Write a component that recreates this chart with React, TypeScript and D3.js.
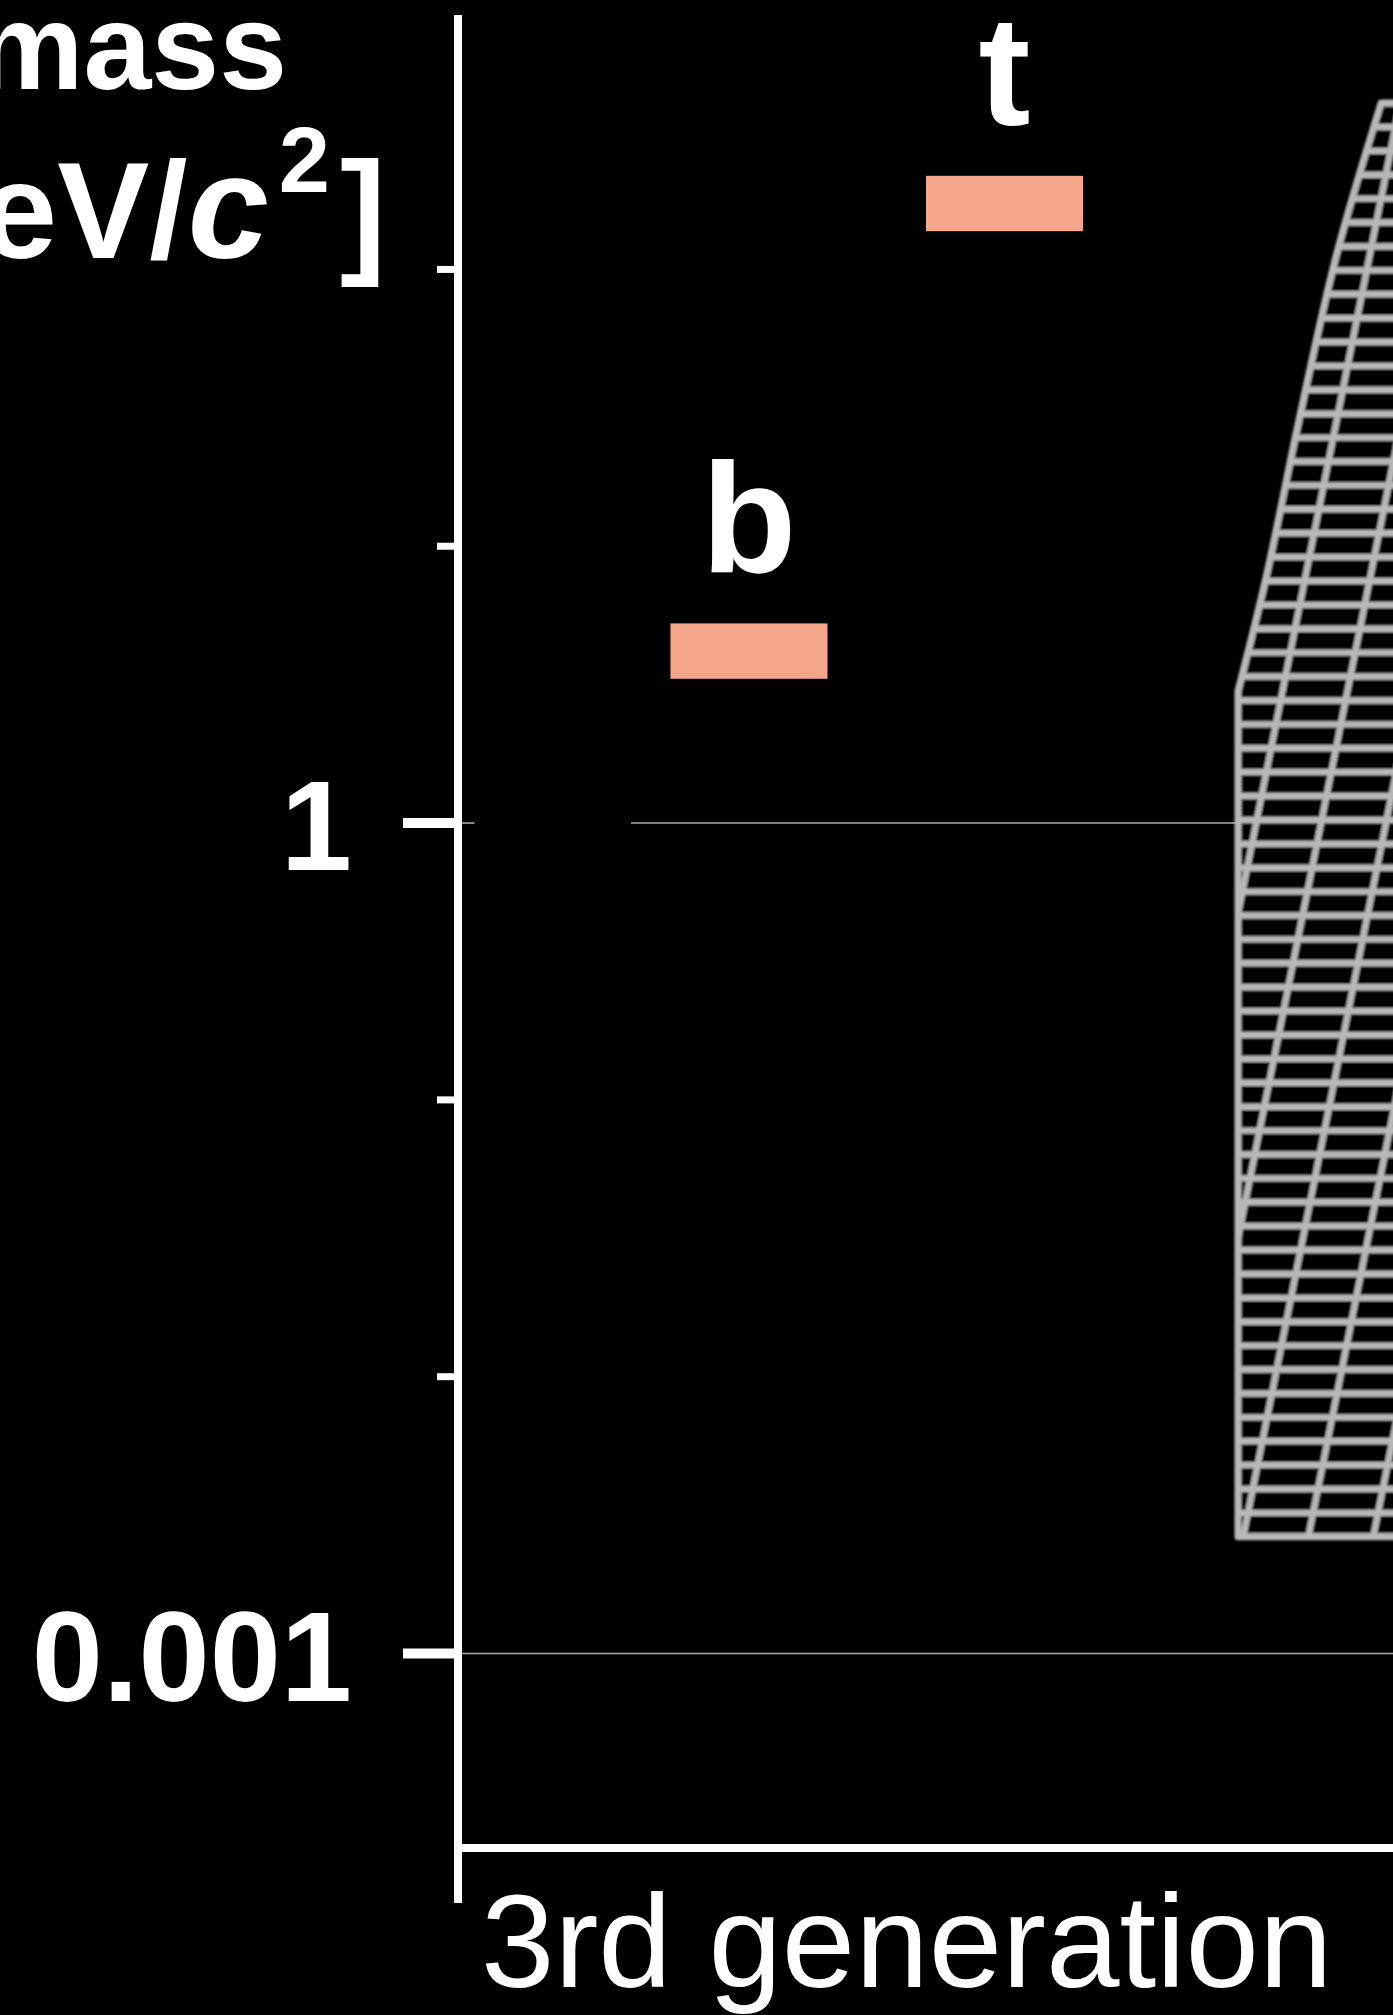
import React, { useEffect, useRef } from 'react';
import * as d3 from 'd3';

const W = 1393;
const H = 2015;

// Quarks of the third generation, masses in GeV/c^2
const particles = ['b', 't'];
const particleMass = [4.18, 173];
const particleColumn = [0, 1];

// Axis ticks (GeV/c^2)
const majorTicks = [0.001, 1];
const majorTickLabels = ['0.001', '1'];
const minorTicks = [0.01, 0.1, 10, 100];

// Horizontal reference lines: value, and the column spans they cover
const gridValue = [1, 1, 0.001];
const gridFrom = [-1.14, -0.462, -1.14];
const gridTo = [-1.075, 1.92, 2.6];

const generationLabel = '3rd generation';

// Curved left edge of the mesh surface: column position and mass
const meshCurveColumn = [2.474, 2.297, 2.149, 2.023, 1.914];
const meshCurveMass = [399, 111, 27.6, 7.67, 3.0];
// straight part of the edge down to the bottom of the surface
const meshEdgeColumn = 1.914;
const meshBottomMass = 0.00264;
const meshRightColumn = 2.6;
const meshRowCount = 61;
// slanted mesh columns: column position where each one crosses mass = 1
const meshColumnAtUnit = [1.476, 1.73, 1.985, 2.239, 2.493, 2.748, 3.002];
const meshColumnSlope = -0.2; // px in x per px in y

export default function App() {
  const ref = useRef<SVGSVGElement>(null);

  useEffect(() => {
    const svg = d3.select(ref.current);
    svg.selectAll('*').remove();

    const y = d3.scaleLog().domain([0.0002, 830]).range([1847, 15]);
    const x = d3.scaleLinear().domain([0, 1]).range([749, 1004.5]);
    const axisX = 458;
    const barW = 157;
    const font = '"Liberation Sans", Arial, sans-serif';
    const meshGrey = '#b8b8b8';

    svg.append('rect').attr('width', W).attr('height', H).attr('fill', '#000');

    // grid lines
    gridValue.forEach((v, i) => {
      svg.append('line')
        .attr('x1', Math.max(axisX, x(gridFrom[i])))
        .attr('x2', x(gridTo[i]))
        .attr('y1', y(v)).attr('y2', y(v))
        .attr('stroke', '#a9a9a9').attr('stroke-width', 1.6);
    });

    // mesh surface
    const defs = svg.append('defs');
    defs.append('filter').attr('id', 'soft')
      .append('feGaussianBlur').attr('stdDeviation', 1);

    const curve = d3.line<number>()
      .x((i) => x(meshCurveColumn[i]))
      .y((i) => y(meshCurveMass[i]))
      .curve(d3.curveCatmullRom.alpha(0.5));
    const curvePath = curve(d3.range(meshCurveColumn.length)) as string;
    const yTop = y(meshCurveMass[0]);
    const yBot = y(meshBottomMass);
    const xRight = x(meshRightColumn);
    const outlinePath =
      `M${xRight},${yTop}L${x(meshCurveColumn[0])},${yTop}` +
      curvePath.replace(/^M/, 'L') +
      `L${x(meshEdgeColumn)},${yBot}L${xRight},${yBot}Z`;
    defs.append('clipPath').attr('id', 'meshClip').append('path').attr('d', outlinePath);

    const mesh = svg.append('g').attr('filter', 'url(#soft)');
    mesh.append('path').attr('d', outlinePath).attr('fill', '#000');
    const g = mesh.append('g').attr('clip-path', 'url(#meshClip)');
    const step = (yBot - yTop) / (meshRowCount - 1);
    d3.range(meshRowCount).forEach((k) => {
      const yy = yTop + k * step;
      g.append('line').attr('x1', x(1.8)).attr('x2', W + 10)
        .attr('y1', yy).attr('y2', yy)
        .attr('stroke', meshGrey).attr('stroke-width', 6.4);
    });
    const y1 = y(1);
    meshColumnAtUnit.forEach((c) => {
      const x0 = x(c);
      g.append('line')
        .attr('x1', x0 + meshColumnSlope * (yTop - 20 - y1)).attr('y1', yTop - 20)
        .attr('x2', x0 + meshColumnSlope * (yBot + 20 - y1)).attr('y2', yBot + 20)
        .attr('stroke', meshGrey).attr('stroke-width', 6.4);
    });
    mesh.append('path').attr('d', outlinePath).attr('fill', 'none')
      .attr('stroke', meshGrey).attr('stroke-width', 7).attr('stroke-linejoin', 'round');

    // bars and labels
    particles.forEach((p, i) => {
      const cx = x(particleColumn[i]);
      const yHi = y(particleMass[i] * Math.pow(10, 0.1));
      const yLo = y(particleMass[i] / Math.pow(10, 0.1));
      svg.append('rect')
        .attr('x', cx - barW / 2).attr('width', barW)
        .attr('y', yHi).attr('height', yLo - yHi)
        .attr('fill', '#f6a68b');
      svg.append('text')
        .attr('x', cx).attr('y', yHi - 51)
        .attr('text-anchor', 'middle')
        .attr('font-family', font)
        .attr('font-weight', 'bold').attr('font-size', 156)
        .attr('fill', '#fff').text(p);
    });

    // axes
    svg.append('line').attr('x1', axisX).attr('x2', axisX).attr('y1', 15).attr('y2', 1903)
      .attr('stroke', '#fff').attr('stroke-width', 8);
    svg.append('line').attr('x1', axisX).attr('x2', W).attr('y1', 1848).attr('y2', 1848)
      .attr('stroke', '#fff').attr('stroke-width', 8);

    majorTicks.forEach((v, i) => {
      svg.append('line').attr('x1', 403).attr('x2', axisX).attr('y1', y(v)).attr('y2', y(v))
        .attr('stroke', '#fff').attr('stroke-width', 10);
      svg.append('text').attr('x', 352).attr('y', y(v)).attr('dy', '0.37em')
        .attr('text-anchor', 'end')
        .attr('font-family', font)
        .attr('font-weight', 'bold').attr('font-size', 128)
        .attr('fill', '#fff').text(majorTickLabels[i]);
    });
    minorTicks.forEach((v) => {
      svg.append('line').attr('x1', 437).attr('x2', axisX).attr('y1', y(v)).attr('y2', y(v))
        .attr('stroke', '#fff').attr('stroke-width', 7);
    });

    // axis title
    svg.append('text').attr('x', 287).attr('y', 89).attr('text-anchor', 'end')
      .attr('font-family', font).attr('font-weight', 'bold').attr('font-size', 122)
      .attr('fill', '#fff').text('mass');
    const t2 = svg.append('text').attr('x', 386).attr('y', 258).attr('text-anchor', 'end')
      .attr('font-family', font).attr('font-weight', 'bold').attr('font-size', 138)
      .attr('fill', '#fff');
    t2.append('tspan').text('[GeV/');
    t2.append('tspan').attr('font-style', 'italic').attr('font-size', 146).text('c');
    t2.append('tspan').attr('font-size', 92).attr('dy', -66).attr('dx', 10).text('2');
    t2.append('tspan').attr('dy', 66).attr('dx', 10).text(']');

    // category label
    svg.append('text').attr('x', 481).attr('y', 1987)
      .attr('font-family', font).attr('font-size', 132)
      .attr('fill', '#fff').text(generationLabel);
  }, []);

  return (
    <svg ref={ref} width={W} height={H}
      style={{ position: 'absolute', left: 0, top: 0, display: 'block' }} />
  );
}
